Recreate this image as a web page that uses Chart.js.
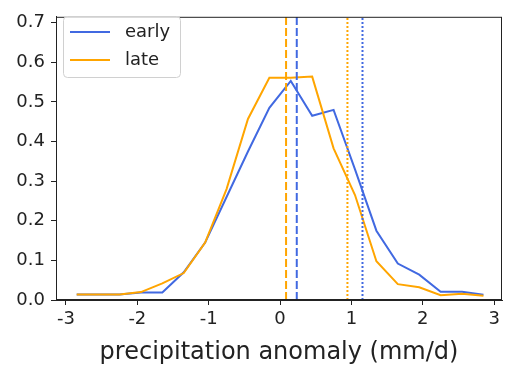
<!DOCTYPE html>
<html>
<head>
<meta charset="utf-8">
<script src="https://cdn.jsdelivr.net/npm/chart.js@4/dist/chart.umd.min.js"></script>
<style>
  body { margin: 0; background: #fff; }
  canvas { display: block; }
</style>
</head>
<body>
<canvas id="grafico" width="506" height="370"></canvas>
<script>
// dados do grafico
var centros = [-2.85, -2.55, -2.25, -1.95, -1.65, -1.35, -1.05, -0.75, -0.45, -0.15,
               0.15, 0.45, 0.75, 1.05, 1.35, 1.65, 1.95, 2.25, 2.55, 2.85];
var early = [0.014, 0.014, 0.014, 0.019, 0.019, 0.07, 0.145, 0.26, 0.375, 0.485,
             0.553, 0.465, 0.48, 0.33, 0.175, 0.092, 0.064, 0.021, 0.021, 0.013];
var late = [0.014, 0.014, 0.014, 0.02, 0.042, 0.068, 0.145, 0.28, 0.457, 0.561,
            0.561, 0.564, 0.383, 0.265, 0.098, 0.04, 0.032, 0.012, 0.016, 0.011];

// linhas verticais
var earlyTracejada = 0.234;
var lateTracejada = 0.084;
var earlyPontilhada = 1.155;
var latePontilhada = 0.944;

var xTicks = [-3, -2, -1, 0, 1, 2, 3];
var yTicks = [0, 0.1, 0.2, 0.3, 0.4, 0.5, 0.6, 0.7];

var xMin = -3.14, xMax = 3.11;
var yMin = 0, yMax = 0.715;

var azul = '#4169E1';
var laranja = '#FFA500';

function pontos(xs, ys) {
  var out = [];
  for (var i = 0; i < xs.length; i++) out.push({x: xs[i], y: ys[i]});
  return out;
}

function vertical(x, cor, dash) {
  return {
    label: '',
    data: [{x: x, y: yMin}, {x: x, y: yMax}],
    borderColor: cor,
    borderWidth: 2,
    borderDash: dash,
    pointRadius: 0,
    order: 0
  };
}

// legenda dentro do grafico + moldura
var legenda = {
  id: 'legenda',
  afterDraw: function(chart) {
    var ctx = chart.ctx;
    var area = chart.chartArea;
    ctx.save();
    ctx.strokeStyle = '#222';
    ctx.lineWidth = 1;
    ctx.strokeRect(area.left + 0.5, area.top + 0.5, area.right - area.left - 1, area.bottom - area.top - 1);

    var x0 = 63, y0 = 16, w = 117, h = 61;
    ctx.fillStyle = 'rgba(255,255,255,0.8)';
    ctx.strokeStyle = '#d0d0d0';
    ctx.beginPath();
    ctx.roundRect(x0 + 0.5, y0 + 0.5, w, h, 4);
    ctx.fill();
    ctx.stroke();

    var itens = chart.data.datasets.slice(0, 2);
    ctx.font = '18px "DejaVu Sans"';
    ctx.textBaseline = 'middle';
    for (var i = 0; i < itens.length; i++) {
      var yy = 32 + i * 28;
      ctx.strokeStyle = itens[i].borderColor;
      ctx.lineWidth = 2;
      ctx.beginPath();
      ctx.moveTo(70, yy);
      ctx.lineTo(110, yy);
      ctx.stroke();
      ctx.fillStyle = '#222';
      ctx.fillText(itens[i].label, 125, yy);
    }
    ctx.restore();
  }
};

var ctx = document.getElementById('grafico').getContext('2d');
var grafico = new Chart(ctx, {
  type: 'line',
  data: {
    datasets: [
      { label: 'early', data: pontos(centros, early), borderColor: azul, borderWidth: 2, pointRadius: 0, order: 2 },
      { label: 'late', data: pontos(centros, late), borderColor: laranja, borderWidth: 2, pointRadius: 0, order: 1 },
      vertical(lateTracejada, laranja, [8, 3]),
      vertical(earlyTracejada, azul, [8, 3]),
      vertical(latePontilhada, laranja, [2, 2]),
      vertical(earlyPontilhada, azul, [2, 2])
    ]
  },
  options: {
    responsive: false,
    animation: false,
    layout: { padding: { top: 9, right: 4, left: 0, bottom: 0 } },
    plugins: { legend: { display: false }, tooltip: { enabled: false } },
    scales: {
      x: {
        type: 'linear',
        min: xMin,
        max: xMax,
        afterBuildTicks: function(s) { s.ticks = xTicks.map(function(v) { return {value: v}; }); },
        afterFit: function(s) { s.height = 70; },
        grid: { drawOnChartArea: false, tickLength: 5, color: '#222' },
        border: { color: '#222' },
        ticks: { color: '#222', font: { family: 'DejaVu Sans', size: 18 }, padding: 4, maxRotation: 0 },
        title: {
          display: true,
          text: 'precipitation anomaly (mm/d)',
          color: '#222',
          font: { family: 'DejaVu Sans', size: 24 },
          padding: { top: 0, bottom: 3 }
        }
      },
      y: {
        min: yMin,
        max: yMax,
        afterBuildTicks: function(s) { s.ticks = yTicks.map(function(v) { return {value: v}; }); },
        afterFit: function(s) { s.width = 56; },
        grid: { drawOnChartArea: false, tickLength: 5, color: '#222' },
        border: { color: '#222' },
        ticks: {
          color: '#222',
          font: { family: 'DejaVu Sans', size: 18 },
          padding: 6,
          callback: function(v) { return v.toFixed(1); }
        }
      }
    }
  },
  plugins: [legenda]
});
</script>
</body>
</html>
